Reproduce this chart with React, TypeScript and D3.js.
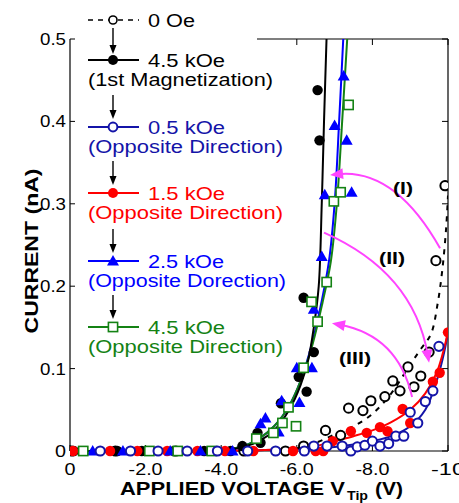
import React from "react";
import * as d3 from "d3";

// ---------- data (V in volts, I in nA) ----------
const xTicks = [0, -2, -4, -6, -8, -10];
const xTickLabels = ["0", "-2.0", "-4.0", "-6.0", "-8.0", "-10"];
const yTicks = [0, 0.1, 0.2, 0.3, 0.4, 0.5];
const yTickLabels = ["0", "0.1", "0.2", "0.3", "0.4", "0.5"];

// 0 Oe (open black circles)
const zeroOeV = [-0.05, -1.2, -2.8, -4.6, -5.7, -6.18, -6.76, -7.16, -7.37, -7.75, -7.96, -8.33, -8.54, -8.73, -8.94, -9.1, -9.28, -9.5, -9.68, -9.92];
const zeroOeI = [0, 0, 0, 0, 0, 0.006, 0.025, 0.019, 0.052, 0.049, 0.061, 0.066, 0.085, 0.073, 0.102, 0.078, 0.091, 0.12, 0.231, 0.322];
// 4.5 kOe 1st magnetization (filled black circles)
const firstMagV = [-0.1, -1.25, -1.9, -2.75, -3.55, -4.25, -4.56, -4.96, -5.04, -5.58, -6.05, -6.26, -6.45, -6.18, -6.6, -6.55];
const firstMagI = [0, 0, 0, 0, 0, 0, 0.006, 0.022, 0.01, 0.058, 0.09, 0.072, 0.12, 0.186, 0.377, 0.438];
// 0.5 kOe opposite (open blue circles)
const opp05V = [-0.8, -1.6, -2.33, -3.1, -3.9, -4.7, -5.44, -6.2, -6.45, -6.8, -7.2, -7.43, -7.6, -7.8, -8.0, -8.2, -8.43, -8.62, -8.83, -9.0, -9.2, -9.4, -9.6, -9.76];
const opp05I = [0, 0, 0, 0, 0, 0, 0, 0, 0.006, 0.006, 0.006, 0, 0.005, 0.007, 0.012, 0.006, 0.009, 0.018, 0.018, 0.047, 0.034, 0.06, 0.073, 0.127];
// 1.5 kOe opposite (filled red circles)
const opp15V = [-0.08, -1.06, -1.78, -2.57, -3.37, -4.1, -4.85, -5.9, -6.5, -6.7, -6.95, -7.43, -7.85, -8.2, -8.4, -8.8, -9.0, -9.6, -9.78, -10.0];
const opp15I = [0, 0, 0, 0, 0, 0, 0, 0, 0, 0, 0.012, 0.024, 0.022, 0.029, 0.024, 0.051, 0.034, 0.084, 0.095, 0.144];
// 2.5 kOe opposite (filled blue triangles)
const opp25V = [-0.6, -1.4, -2.65, -3.45, -4.3, -5.04, -5.17, -5.52, -5.6, -6.07, -6.0, -6.4, -6.45, -6.66, -6.74, -7.45, -7.0, -7.32, -7.24];
const opp25I = [0, 0, 0, 0, 0, 0.033, 0.04, 0.023, 0.061, 0.059, 0.101, 0.101, 0.172, 0.236, 0.311, 0.314, 0.395, 0.377, 0.455];
// 4.5 kOe opposite (open green squares)
const opp45V = [-0.35, -2.1, -2.85, -3.75, -4.93, -5.38, -5.62, -5.98, -5.78, -6.18, -6.55, -6.39, -6.79, -6.98, -7.16, -7.37];
const opp45I = [0, 0, 0, 0, 0.015, 0.022, 0.034, 0.03, 0.053, 0.101, 0.157, 0.181, 0.205, 0.303, 0.314, 0.42];

// fitted curves
const fitZeroV = [-6.0, -6.5, -7.0, -7.5, -8.0, -8.5, -9.0, -9.3, -9.55, -9.73, -9.85, -9.95, -10.0];
const fitZeroI = [0.003, 0.01, 0.02, 0.03, 0.045, 0.07, 0.105, 0.125, 0.142, 0.18, 0.22, 0.27, 0.31];
const fitFirstV = [0, -4.0, -4.6, -5.0, -5.4, -5.8, -6.1, -6.3, -6.45, -6.58, -6.66, -6.72, -6.8];
const fitFirstI = [0, 0.001, 0.005, 0.012, 0.025, 0.05, 0.08, 0.11, 0.15, 0.2, 0.3, 0.4, 0.52];
const fit05V = [0, -5, -6, -7, -7.5, -8, -8.5, -9, -9.4, -9.7, -9.9, -10];
const fit05I = [0, 0.001, 0.002, 0.005, 0.008, 0.012, 0.018, 0.03, 0.05, 0.085, 0.12, 0.145];
const fit15V = [0, -5, -6, -6.5, -7, -7.5, -8, -8.5, -9, -9.4, -9.7, -9.9, -10];
const fit15I = [0, 0.001, 0.003, 0.006, 0.012, 0.018, 0.025, 0.035, 0.05, 0.07, 0.095, 0.125, 0.145];
const fit25V = [0, -4.0, -4.6, -5.0, -5.4, -5.8, -6.1, -6.4, -6.65, -6.85, -7.0, -7.12, -7.25];
const fit25I = [0, 0.001, 0.006, 0.015, 0.03, 0.055, 0.085, 0.13, 0.18, 0.23, 0.3, 0.4, 0.52];
const fit45V = [0, -4.0, -4.6, -5.0, -5.4, -5.8, -6.1, -6.42, -6.68, -6.9, -7.06, -7.2, -7.36];
const fit45I = [0, 0.001, 0.006, 0.015, 0.03, 0.055, 0.085, 0.13, 0.18, 0.23, 0.3, 0.4, 0.52];

// annotation arrows: [startV, startI, ctrlV, ctrlI, endV, endI]
const arrowI = [-9.79, 0.246, -8.6, 0.343, -6.88, 0.335];
const arrowII = [-6.72, 0.265, -9.09, 0.217, -9.5, 0.107];
const arrowIII = [-9.05, 0.0655, -8.68, 0.14, -6.93, 0.155];
const arrowLabels = ["(I)", "(II)", "(III)"];
const arrowLabelV = [-8.81, -8.52, -7.54];
const arrowLabelI = [0.319, 0.234, 0.113];

const legendMain = ["0 Oe", "4.5 kOe", "0.5 kOe", "1.5 kOe", "2.5 kOe", "4.5 kOe"];
const legendSub = ["", "(1st Magnetization)", "(Opposite Direction)", "(Opposite Direction)", "(Opposite Dorection)", "(Opposite Direction)"];

const W = 459, H = 503;
const FONT = "Arial, 'Liberation Sans', Helvetica, sans-serif";
const BLACK = "#000000";
const NAVY = "#1414a8";
const RED = "#ff0000";
const BLUE = "#0000ff";
const GREEN = "#148214";
const MAGENTA = "#ff44ff";

const x = d3.scaleLinear().domain([0, -10]).range([70, 448]);
const y = d3.scaleLinear().domain([0, 0.5]).range([451, 39]);

const zip = (a: number[], b: number[]) => a.map((v, i) => [v, b[i]] as [number, number]);

const lineGen = d3
  .line<[number, number]>()
  .x((d) => x(d[0]))
  .y((d) => y(d[1]))
  .curve(d3.curveCatmullRom.alpha(0.5));

function Arrow({ a }: { a: number[] }) {
  const p0 = [x(a[0]), y(a[1])];
  const c = [x(a[2]), y(a[3])];
  const p2 = [x(a[4]), y(a[5])];
  const dx = p2[0] - c[0], dy = p2[1] - c[1];
  const len = Math.hypot(dx, dy);
  const ux = dx / len, uy = dy / len;
  const hl = 13, hw = 5.5;
  const bx = p2[0] - ux * hl, by = p2[1] - uy * hl;
  const head = `M${p2[0]},${p2[1]}L${bx - uy * hw},${by + ux * hw}L${bx + uy * hw},${by - ux * hw}Z`;
  const ex = p2[0] - ux * 8, ey = p2[1] - uy * 8;
  return (
    <g>
      <path d={`M${p0[0]},${p0[1]}Q${c[0]},${c[1]} ${ex},${ey}`} fill="none" stroke={MAGENTA} strokeWidth={2} />
      <path d={head} fill={MAGENTA} />
    </g>
  );
}

function Circle({ cx, cy, filled, color }: { cx: number; cy: number; filled: boolean; color: string }) {
  return filled ? (
    <circle cx={cx} cy={cy} r={5.2} fill={color} />
  ) : (
    <circle cx={cx} cy={cy} r={4.6} fill="#fff" stroke={color} strokeWidth={2} />
  );
}

function Square({ cx, cy, color }: { cx: number; cy: number; color: string }) {
  return <rect x={cx - 4.6} y={cy - 4.6} width={9.2} height={9.2} fill="#fff" stroke={color} strokeWidth={1.6} />;
}

function Tri({ cx, cy, color }: { cx: number; cy: number; color: string }) {
  const s = 6;
  return <path d={`M${cx},${cy - s}L${cx + s},${cy + s * 0.75}L${cx - s},${cy + s * 0.75}Z`} fill={color} />;
}

function DownArrow({ cx, y0, y1 }: { cx: number; y0: number; y1: number }) {
  return (
    <g>
      <line x1={cx} x2={cx} y1={y0} y2={y1 - 6} stroke="#000" strokeWidth={1.4} />
      <path d={`M${cx},${y1}L${cx - 3.5},${y1 - 9}L${cx + 3.5},${y1 - 9}Z`} fill="#000" />
    </g>
  );
}

export default function App() {
  const legendY = [20, 60, 127, 193, 261, 327];
  const legendColors = [BLACK, BLACK, NAVY, RED, BLUE, GREEN];
  const mainLen = [47, 77, 77, 77, 76, 77];
  const subLen = [0, 185, 195, 195, 198, 195];
  const lx0 = 88, lx1 = 139, lmx = 113;

  return (
    <svg width={W} height={H} style={{ position: "absolute", left: 0, top: 0, background: "#fff" }} fontFamily={FONT}>
      <defs>
        <clipPath id="plot">
          <rect x={70} y={39} width={378} height={420} />
        </clipPath>
      </defs>

      {/* frame */}
      <line x1={70} x2={70} y1={39} y2={451} stroke="#000" strokeWidth={1.2} />
      <line x1={70} x2={448} y1={451} y2={451} stroke="#000" strokeWidth={1.2} />
      <line x1={448} x2={448} y1={39} y2={451} stroke="#000" strokeWidth={1.2} />
      <line x1={257} x2={448} y1={39} y2={39} stroke="#000" strokeWidth={1.2} />
      {yTicks.map((t) => (
        <g key={"yt" + t}>
          <line x1={70} x2={75} y1={y(t)} y2={y(t)} stroke="#000" strokeWidth={1} />
          <line x1={442} x2={448} y1={y(t)} y2={y(t)} stroke="#000" strokeWidth={1} />
        </g>
      ))}
      {xTicks.map((t) => (
        <g key={"xt" + t}>
          <line x1={x(t)} x2={x(t)} y1={451} y2={445} stroke="#000" strokeWidth={1} />
          {x(t) > 260 && <line x1={x(t)} x2={x(t)} y1={39} y2={45} stroke="#000" strokeWidth={1} />}
        </g>
      ))}

      {/* tick labels */}
      {yTicks.map((t, i) => (
        <text key={"yl" + t} x={66} y={y(t) + 6} textAnchor="end" fontSize={17}
          textLength={i === 0 ? 11 : 26} lengthAdjust="spacingAndGlyphs">
          {yTickLabels[i]}
        </text>
      ))}
      {xTicks.map((t, i) => (
        <text key={"xl" + t} x={x(t)} y={475} textAnchor="middle" fontSize={17}
          textLength={i === 0 ? 11 : 34} lengthAdjust="spacingAndGlyphs">
          {xTickLabels[i]}
        </text>
      ))}

      {/* axis titles */}
      <text x={120} y={495} fontSize={17.5} fontWeight="bold" textLength={225} lengthAdjust="spacingAndGlyphs">APPLIED VOLTAGE V</text>
      <text x={347} y={500} fontSize={12} fontWeight="bold" textLength={21} lengthAdjust="spacingAndGlyphs">Tip</text>
      <text x={375} y={495} fontSize={17.5} fontWeight="bold" textLength={28} lengthAdjust="spacingAndGlyphs">(V)</text>
      <text transform="translate(38,251) rotate(-90)" textAnchor="middle" fontSize={18} fontWeight="bold"
        textLength={165} lengthAdjust="spacingAndGlyphs">CURRENT (nA)</text>

      {/* fitted curves */}
      <g clipPath="url(#plot)" fill="none" strokeWidth={2}>
        <path d={lineGen(zip(fit05V, fit05I)) || ""} stroke={NAVY} />
        <path d={lineGen(zip(fit15V, fit15I)) || ""} stroke={RED} />
        <path d={lineGen(zip(fit25V, fit25I)) || ""} stroke={BLUE} />
        <path d={lineGen(zip(fit45V, fit45I)) || ""} stroke={GREEN} />
        <path d={lineGen(zip(fitFirstV, fitFirstI)) || ""} stroke={BLACK} />
        <path d={lineGen(zip(fitZeroV, fitZeroI)) || ""} stroke={BLACK} strokeDasharray="5,6" />
      </g>

      {/* markers */}
      <g clipPath="url(#plot)">
        {zip(zeroOeV, zeroOeI).map((d, i) => <Circle key={"z" + i} cx={x(d[0])} cy={y(d[1])} filled={false} color={BLACK} />)}
        {zip(firstMagV, firstMagI).map((d, i) => <Circle key={"f" + i} cx={x(d[0])} cy={y(d[1])} filled color={BLACK} />)}
        {zip(opp15V, opp15I).map((d, i) => <Circle key={"r" + i} cx={x(d[0])} cy={y(d[1])} filled color={RED} />)}
        {zip(opp25V, opp25I).map((d, i) => <Tri key={"t" + i} cx={x(d[0])} cy={y(d[1])} color={BLUE} />)}
        {zip(opp45V, opp45I).map((d, i) => <Square key={"s" + i} cx={x(d[0])} cy={y(d[1])} color={GREEN} />)}
        {zip(opp05V, opp05I).map((d, i) => <Circle key={"b" + i} cx={x(d[0])} cy={y(d[1])} filled={false} color={NAVY} />)}
      </g>

      {/* annotation arrows */}
      <Arrow a={arrowI} />
      <Arrow a={arrowII} />
      <Arrow a={arrowIII} />
      {arrowLabels.map((t, i) => (
        <text key={t} x={x(arrowLabelV[i])} y={y(arrowLabelI[i]) + 6} textAnchor="middle" fontSize={17} fontWeight="bold"
          textLength={[20, 26, 32][i]} lengthAdjust="spacingAndGlyphs">
          {t}
        </text>
      ))}

      {/* legend */}
      <g>
        {legendY.map((ly, i) => (
          <g key={"lg" + i}>
            <line x1={lx0} x2={lx1} y1={ly} y2={ly} stroke={legendColors[i]} strokeWidth={i === 0 ? 1.5 : 2}
              strokeDasharray={i === 0 ? "5,5" : undefined} />
            {i === 0 && <circle cx={lmx} cy={ly} r={4} fill="#fff" stroke="#000" strokeWidth={1.6} />}
            {i === 1 && <circle cx={lmx} cy={ly} r={5} fill="#000" />}
            {i === 2 && <circle cx={lmx} cy={ly} r={4.4} fill="#fff" stroke={NAVY} strokeWidth={2} />}
            {i === 3 && <circle cx={lmx} cy={ly} r={5} fill={RED} />}
            {i === 4 && <Tri cx={lmx} cy={ly} color={BLUE} />}
            {i === 5 && <Square cx={lmx} cy={ly} color={GREEN} />}
            <text x={148} y={ly + 7} fontSize={17.5} fill={legendColors[i]} textLength={mainLen[i]} lengthAdjust="spacingAndGlyphs">
              {legendMain[i]}
            </text>
            {legendSub[i] && (
              <text x={88} y={ly + 26} fontSize={17.5} fill={legendColors[i]} textLength={subLen[i]} lengthAdjust="spacingAndGlyphs">
                {legendSub[i]}
              </text>
            )}
          </g>
        ))}
        <DownArrow cx={lmx} y0={28} y1={54} />
        {legendY.slice(2).map((ly, i) => (
          <DownArrow key={"da" + i} cx={lmx} y0={ly - 32} y1={ly - 8} />
        ))}
      </g>
    </svg>
  );
}
